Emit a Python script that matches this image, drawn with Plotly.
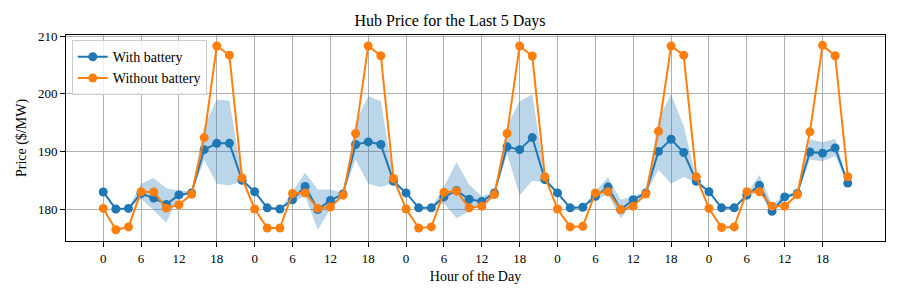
import plotly.graph_objects as go

# Hour index (2-hour steps over 5 days)
idx = list(range(60))
tick_vals = list(range(0, 60, 3))
tick_text = ["0", "6", "12", "18"] * 5

with_battery = [
    182.96, 180.0, 180.1, 182.7, 181.9, 180.8, 182.45, 182.8, 190.3, 191.4, 191.4, 185.0,
    183.0, 180.2, 180.0, 181.6, 183.9, 179.9, 181.5, 182.6, 191.2, 191.65, 191.2, 184.8,
    182.8, 180.2, 180.2, 182.1, 183.2, 181.7, 181.3, 182.8, 190.8, 190.3, 192.4, 185.1,
    182.8, 180.2, 180.3, 182.2, 183.8, 179.9, 181.6, 182.8, 190.0, 192.1, 189.8, 184.8,
    183.0, 180.2, 180.2, 182.4, 184.1, 179.6, 182.1, 182.7, 189.9, 189.7, 190.6, 184.5,
]
without_battery = [
    180.1, 176.4, 176.9, 183.0, 182.95, 180.15, 180.75, 182.55, 192.4, 208.3, 206.7, 185.4,
    180.0, 176.7, 176.7, 182.7, 182.8, 180.1, 180.35, 182.4, 193.1, 208.3, 206.6, 185.3,
    180.0, 176.7, 176.9, 182.9, 183.1, 180.2, 180.5, 182.5, 193.1, 208.3, 206.55, 185.6,
    180.0, 176.9, 177.0, 182.8, 183.0, 179.9, 180.5, 182.6, 193.5, 208.3, 206.7, 185.6,
    180.1, 176.8, 176.9, 183.0, 183.0, 180.5, 180.5, 182.5, 193.4, 208.4, 206.6, 185.6,
]
band_upper = [
    182.96, 180.0, 180.1, 184.4, 185.4, 183.6, 183.2, 183.0, 194.3, 199.0, 198.8, 185.5,
    183.0, 180.2, 180.0, 183.0, 186.3, 183.4, 183.4, 182.8, 195.0, 199.6, 198.7, 185.2,
    182.8, 180.2, 180.2, 183.9, 188.1, 184.2, 182.2, 183.0, 194.4, 198.7, 199.9, 185.6,
    182.8, 180.2, 180.3, 183.1, 185.5, 181.6, 182.2, 183.0, 195.6, 199.9, 194.4, 185.2,
    183.0, 180.2, 180.2, 182.7, 185.9, 180.8, 182.5, 182.9, 192.1, 191.6, 192.2, 184.5,
]
band_lower = [
    182.96, 180.0, 180.1, 181.8, 179.8, 177.6, 182.2, 182.6, 188.5, 184.4, 184.1, 184.8,
    183.0, 180.2, 180.0, 181.2, 182.2, 176.4, 180.0, 182.4, 188.6, 184.4, 183.8, 184.5,
    182.8, 180.2, 180.2, 181.0, 178.4, 179.6, 180.75, 182.6, 189.5, 182.4, 184.9, 184.7,
    182.8, 180.2, 180.3, 181.6, 182.5, 178.4, 181.0, 182.6, 186.8, 184.4, 185.6, 184.5,
    183.0, 180.2, 180.2, 182.1, 183.1, 179.0, 181.7, 182.5, 188.6, 188.3, 189.2, 184.5,
]

BLUE = "#1f77b4"
ORANGE = "#ff7f0e"
FONT = "Liberation Serif"

fig = go.Figure()
fig.add_trace(go.Scatter(x=idx, y=band_upper, mode="lines", line=dict(width=0, color=BLUE),
                         showlegend=False, hoverinfo="skip"))
fig.add_trace(go.Scatter(x=idx, y=band_lower, mode="lines", line=dict(width=0, color=BLUE),
                         fill="tonexty", fillcolor="rgba(31,119,180,0.3)",
                         showlegend=False, hoverinfo="skip"))
fig.add_trace(go.Scatter(x=idx, y=with_battery, mode="lines+markers", name="With battery",
                         line=dict(color=BLUE, width=2), marker=dict(size=9, color=BLUE)))
fig.add_trace(go.Scatter(x=idx, y=without_battery, mode="lines+markers", name="Without battery",
                         line=dict(color=ORANGE, width=2), marker=dict(size=9, color=ORANGE)))

axis_common = dict(showline=True, linecolor="black", linewidth=1, mirror=True,
                   showgrid=True, gridcolor="#b0b0b0", gridwidth=1, automargin=False,
                   ticks="outside", ticklen=5, tickcolor="black", zeroline=False,
                   tickfont=dict(family=FONT, size=13, color="black"))

fig.update_layout(
    width=900, height=300,
    margin=dict(l=66, r=15, t=35, b=59),
    paper_bgcolor="white", plot_bgcolor="white",
    font=dict(family=FONT, size=13, color="black"),
    title=dict(text="Hub Price for the Last 5 Days", x=0.5, xanchor="center",
               y=1 - 20 / 300, yanchor="middle", font=dict(family=FONT, size=16, color="black")),
    xaxis=dict(range=[-2.95, 61.95], tickmode="array", tickvals=tick_vals, ticktext=tick_text,
               title=dict(text="Hour of the Day", font=dict(family=FONT, size=14), standoff=6),
               **axis_common),
    yaxis=dict(range=[174.45, 210.2], tickmode="array", tickvals=[180, 190, 200, 210],
               title=dict(text="Price ($/MW)", font=dict(family=FONT, size=14), standoff=8),
               **axis_common),
    legend=dict(x=0.007, y=0.975, xanchor="left", yanchor="top", traceorder="normal",
                bgcolor="rgba(255,255,255,0.8)", bordercolor="#cccccc", borderwidth=1,
                font=dict(family=FONT, size=14), itemwidth=30, tracegroupgap=0),
    showlegend=True,
)

fig.write_html("out.html", config={"displayModeBar": False},
               post_script="document.body.style.margin='0';")
